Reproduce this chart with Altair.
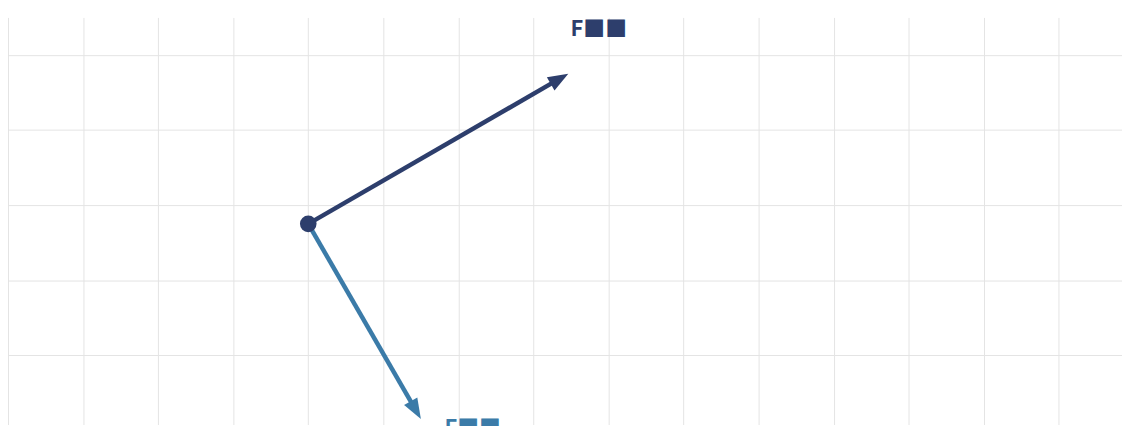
import altair as alt
import pandas as pd
import math

# vectors: magnitude, angle (deg, counter-clockwise from +x)
names = ["F1", "F2"]
mags = [4.0, 3.0]
angles = [30.0, -60.0]
colors = ["#2d3e6c", "#3b7ba8"]
label_text = ["F\u25a0\u25a0", "F\u25a0\u25a0"]
label_x = [3.87, 2.19]
label_y = [2.50, -2.81]

x_grid = list(range(-4, 11))
y_grid = [-1.75, -0.75, 0.25, 1.25, 2.25]
x_domain = [-4, 10.84]
y_domain = [-2.673, 2.75]

px_per_unit = 75.6
head_len_units = 12 / px_per_unit

rows = []
for n, m, a, c, t, lx, ly in zip(names, mags, angles, colors, label_text, label_x, label_y):
    r = math.radians(a)
    ex, ey = m * math.cos(r), m * math.sin(r)
    sx, sy = (m - head_len_units) * math.cos(r), (m - head_len_units) * math.sin(r)
    rows.append(dict(name=n, x0=0.0, y0=0.0, x1=sx, y1=sy, tx=ex, ty=ey,
                     rot=90 - a, color=c, text=t, lx=lx, ly=ly))
df = pd.DataFrame(rows)

xs = alt.Scale(domain=x_domain, nice=False, zero=False)
ys = alt.Scale(domain=y_domain, nice=False, zero=False)
xax = alt.Axis(values=x_grid, labels=False, ticks=False, domain=False, title=None,
               grid=True, gridColor="#e4e4e4", gridWidth=1)
yax = alt.Axis(values=y_grid, labels=False, ticks=False, domain=False, title=None,
               grid=True, gridColor="#e4e4e4", gridWidth=1)

base = alt.Chart(df)

lines = base.mark_rule(strokeWidth=4.5).encode(
    x=alt.X("x0:Q", scale=xs, axis=xax),
    y=alt.Y("y0:Q", scale=ys, axis=yax),
    x2="x1:Q", y2="y1:Q",
    color=alt.Color("color:N", scale=None),
)

heads = base.mark_point(shape="M0,0L0.75,2L-0.75,2Z", filled=True, opacity=1, size=420).encode(
    x=alt.X("tx:Q", scale=xs),
    y=alt.Y("ty:Q", scale=ys),
    angle=alt.Angle("rot:Q", scale=None),
    color=alt.Color("color:N", scale=None),
)

origin = alt.Chart(pd.DataFrame({"x": [0.0], "y": [0.0]})).mark_point(
    filled=True, opacity=1, size=280, color="#2d3e6c", shape="circle"
).encode(x=alt.X("x:Q", scale=xs), y=alt.Y("y:Q", scale=ys))

labels = base.mark_text(font="Noto Sans CJK SC", fontSize=22, fontWeight="bold",
                        align="center", baseline="alphabetic").encode(
    x=alt.X("lx:Q", scale=xs),
    y=alt.Y("ly:Q", scale=ys),
    text="text:N",
    color=alt.Color("color:N", scale=None),
)

chart = alt.layer(lines, heads, origin, labels).properties(
    width=1122, height=410,
    autosize=alt.AutoSizeParams(type="none"),
    padding={"left": 0, "top": 8, "right": 0, "bottom": 0},
).configure_view(stroke=None)

chart.save("out.html", embed_options={"renderer": "svg", "actions": False})
